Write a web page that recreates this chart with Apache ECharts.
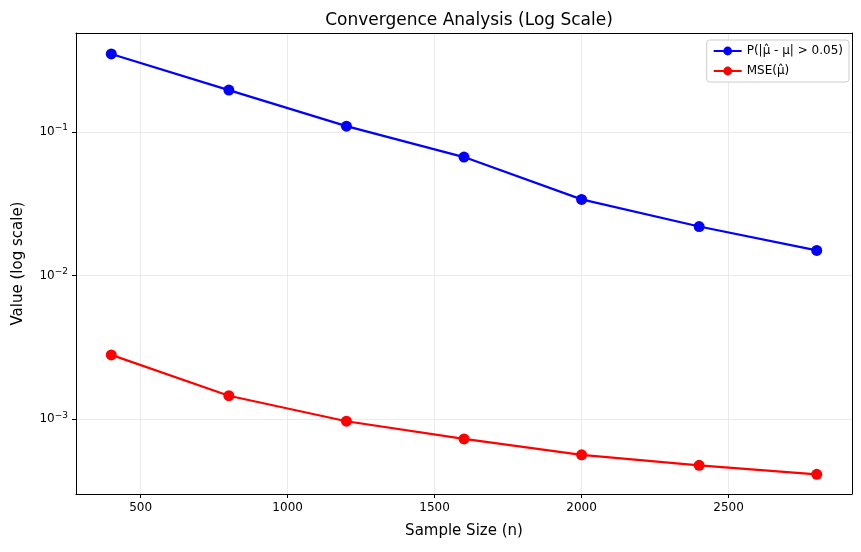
<!DOCTYPE html>
<html><head><meta charset="utf-8">
<script src="https://cdn.jsdelivr.net/npm/echarts@6/dist/echarts.min.js"></script>
</head><body style="margin:0">
<div id="c" style="width:861px;height:552px"></div>
<script>
var sizes = [400, 800, 1200, 1600, 2000, 2400, 2800];
var probDev = [0.35, 0.196, 0.110, 0.067, 0.034, 0.022, 0.015];
var mse = [0.00281, 0.00146, 0.00097, 0.00073, 0.000566, 0.000478, 0.000414];
var xTicks = [500, 1000, 1500, 2000, 2500];
var yExp = [-3, -2, -1];

function pts(v) { return sizes.map(function (x, i) { return [x, Math.log10(v[i])]; }); }

var myChart = echarts.init(document.getElementById('c'));
var font = 'DejaVu Sans';
var option = {
  animation: false,
  backgroundColor: '#fff',
  textStyle: {fontFamily: font},
  title: {text: 'Convergence Analysis (Log Scale)', left: 464, top: 7, textAlign: 'center',
    textStyle: {fontSize: 17, fontWeight: 'normal', color: '#000', fontFamily: font}},
  legend: {right: 12, top: 40, orient: 'vertical', itemWidth: 28, itemHeight: 11, itemGap: 8,
    backgroundColor: '#fff', borderColor: '#ccc', borderWidth: 1, borderRadius: 3, padding: [5, 6],
    textStyle: {fontSize: 12, color: '#000'}},
  grid: {left: 76, right: 9, top: 33, bottom: 58},
  xAxis: [{type: 'value', min: 280, max: 2920, name: 'Sample Size (n)', nameLocation: 'middle', nameGap: 30,
    nameTextStyle: {fontSize: 15, color: '#000'},
    axisLine: {onZero: false, lineStyle: {color: '#000'}},
    axisTick: {customValues: xTicks, length: 4, lineStyle: {color: '#000'}},
    axisLabel: {customValues: xTicks, color: '#000', fontSize: 12, formatter: function (v) { return String(v); }},
    splitLine: {show: true, lineStyle: {color: '#ebebeb'}}},
    {type: 'value', position: 'top', min: 280, max: 2920, axisLine: {onZero: false, lineStyle: {color: '#000'}},
      axisTick: {show: false}, axisLabel: {show: false}, splitLine: {show: false}}],
  yAxis: [{type: 'value', min: -3.52, max: -0.31, name: 'Value (log scale)', nameLocation: 'middle', nameGap: 50,
    nameTextStyle: {fontSize: 15, color: '#000'},
    axisLine: {show: true, onZero: false, lineStyle: {color: '#000'}},
    axisTick: {customValues: yExp, length: 4, lineStyle: {color: '#000'}},
    axisLabel: {customValues: yExp, color: '#000', fontSize: 12,
      formatter: function (v) { return '10{s|−' + Math.abs(Math.round(v)) + '}'; },
      rich: {s: {fontSize: 9, verticalAlign: 'top', padding: [0, 0, 8, 0], color: '#000'}}},
    splitLine: {show: true, lineStyle: {color: '#ebebeb'}}},
    {type: 'value', position: 'right', min: -3.52, max: -0.31,
      axisLine: {show: true, onZero: false, lineStyle: {color: '#000'}},
      axisTick: {show: false}, axisLabel: {show: false}, splitLine: {show: false}}],
  series: [
    {name: 'P(|μ̂ - μ| > 0.05)', type: 'line', data: pts(probDev), symbol: 'circle', symbolSize: 11,
      lineStyle: {color: '#0000ff', width: 2.2}, itemStyle: {color: '#0000ff'}},
    {name: 'MSE(μ̂)', type: 'line', data: pts(mse), symbol: 'circle', symbolSize: 11,
      lineStyle: {color: '#ff0000', width: 2.2}, itemStyle: {color: '#ff0000'}}
  ]
};
myChart.setOption(option);
</script>
</body></html>
